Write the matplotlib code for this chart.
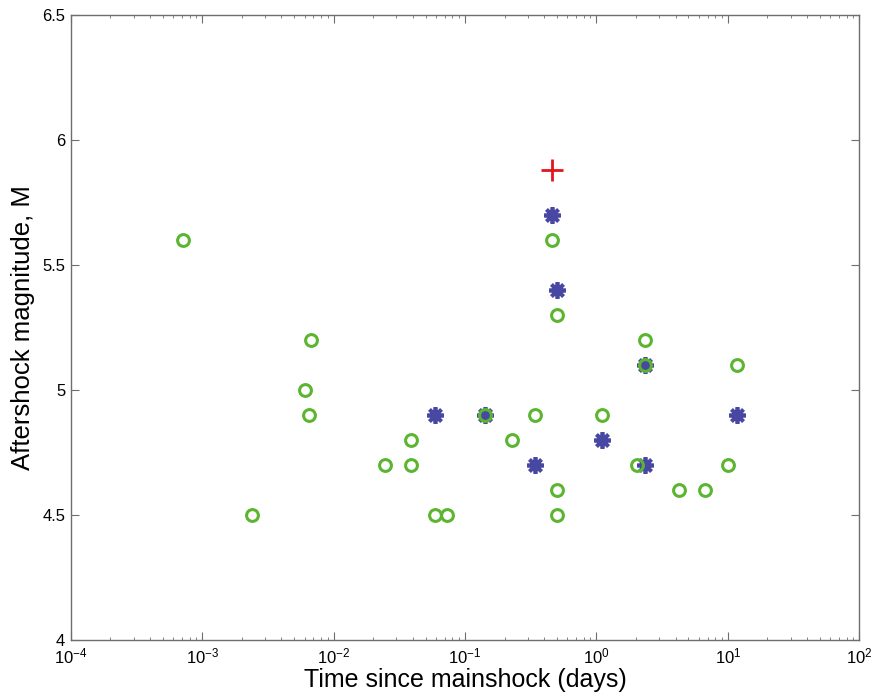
import matplotlib.pyplot as plt

plt.rcParams['font.family'] = 'Liberation Sans'
plt.rcParams['mathtext.default'] = 'regular'

# green circles: all aftershocks
t_all = [7.1e-4, 2.38e-3, 6.0e-3, 6.45e-3, 6.7e-3, 0.0248, 0.0386, 0.0386,
         0.0586, 0.0723, 0.1406, 0.226, 0.343, 0.455, 0.505, 0.505, 0.505,
         1.11, 2.05, 2.36, 2.36, 4.28, 6.74, 10.1, 11.8]
m_all = [5.6, 4.5, 5.0, 4.9, 5.2, 4.7, 4.8, 4.7,
         4.5, 4.5, 4.9, 4.8, 4.9, 5.6, 5.3, 4.6, 4.5,
         4.9, 4.7, 5.2, 5.1, 4.6, 4.6, 4.7, 5.1]

# blue asterisks
t_sel = [0.455, 0.505, 0.0586, 0.1406, 0.343, 1.11, 2.36, 2.36, 11.8]
m_sel = [5.7, 5.4, 4.9, 4.9, 4.7, 4.8, 5.1, 4.7, 4.9]

# red cross: largest event
t_big = [0.455]
m_big = [5.88]

fig = plt.figure(figsize=(8.75, 7.0), dpi=100)
ax = fig.add_axes([0.081, 0.0857, 0.901, 0.893])

ax.plot(t_sel, m_sel, linestyle='none', marker=(8, 2, 0), markersize=12,
        markeredgewidth=2.7, color='#4848a2')
ax.plot(t_all, m_all, linestyle='none', marker='o', markersize=8.5,
        markeredgewidth=2.2, markerfacecolor='none', markeredgecolor='#5cb531')
ax.plot(t_big, m_big, linestyle='none', marker='+', markersize=16,
        markeredgewidth=2.0, color='#e3141e')

ax.set_xscale('log')
ax.set_xlim(1e-4, 1e2)
ax.set_ylim(4, 6.5)
ax.set_yticks([4, 4.5, 5, 5.5, 6, 6.5])
ax.set_yticklabels(['4', '4.5', '5', '5.5', '6', '6.5'])

ax.tick_params(which='both', direction='in', top=True, right=True,
               labelsize=12, color='#6e6e6e', pad=4)
ax.tick_params(axis='x', which='both', pad=5)
ax.tick_params(which='major', length=5.5)
ax.tick_params(which='minor', length=2.5)
for s in ax.spines.values():
    s.set_color('#6e6e6e')
    s.set_linewidth(1.0)

ax.set_xlabel('Time since mainshock (days)', fontsize=18, labelpad=1)
ax.set_ylabel('Aftershock magnitude, M', fontsize=18.5, labelpad=5)

fig.savefig('out.png', dpi=100)
